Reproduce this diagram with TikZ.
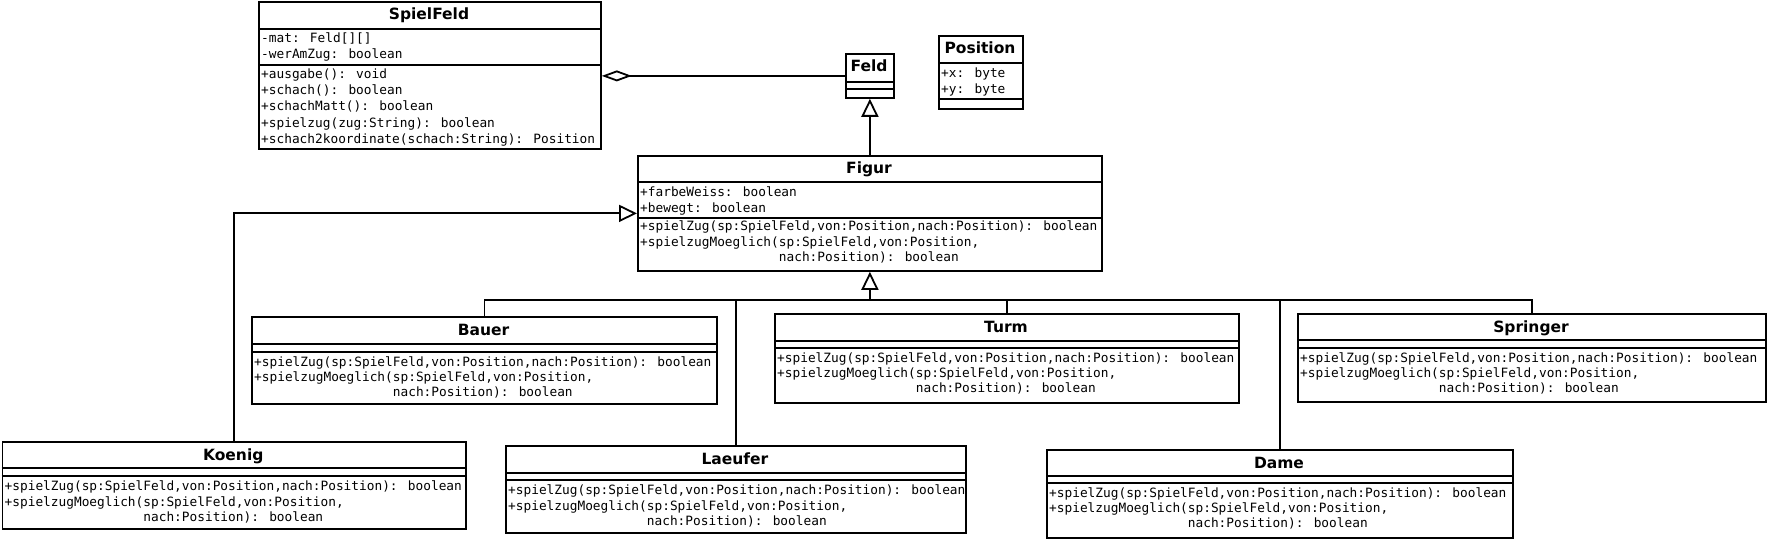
\documentclass[tikz,border=0pt]{standalone}
\usepackage{fontspec}
\usetikzlibrary{arrows.meta}
\newfontfamily\monof{DejaVu Sans Mono}
\newfontfamily\titlef{DejaVu Sans}
\newcommand\firstln{\rule{0pt}{10pt}}
\newcommand\figops{\firstln+spielZug(sp:SpielFeld,von:Position,nach:Position): boolean\\+spielzugMoeglich(sp:SpielFeld,von:Position,\\\phantom{+spielzugMoeglich(}nach:Position): boolean}
\tikzset{
  classbox/.style={draw, line width=1.8pt, rectangle, inner sep=0pt, fill=white},
  rule/.style={line width=1.8pt},
  titletext/.style={font=\titlef\bfseries\fontsize{15.5}{18}\selectfont, inner sep=0pt, anchor=base},
  mono/.style={font=\monof\fontsize{12.8}{15.3}\selectfont, align=left, inner sep=0pt, anchor=north west},
  monowide/.style={mono, font=\monof\fontsize{12.8}{15.6}\selectfont},
  monosf/.style={mono, font=\monof\fontsize{12.8}{16.2}\selectfont},
  conn/.style={line width=1.8pt},
  gen/.style={conn, -{Triangle[length=18pt, width=17pt, fill=white]}},
  agg/.style={conn, -{Diamond[length=30pt, width=11pt, fill=white]}},
}
% name, left, right, top, title divider, attribute divider, bottom, title
\newcommand\umlbox[8]{%
  \node[classbox, minimum width={#3-#2}, minimum height={#7-#4}, anchor=north west] (#1) at (#2,#4) {};
  \draw[rule] (#2,#5) -- (#3,#5);
  \draw[rule] (#2,#6) -- (#3,#6);
  \node[titletext] (#1-title) at ({(#2+#3)/2},{#4+19}) {#8};
}
\begin{document}
\begin{tikzpicture}[x=1pt,y=-1pt]
\useasboundingbox (0,0) rectangle (1767,540);

\umlbox{spielfeld}{258}{600}{1}{29}{65}{148}{SpielFeld}
\node[monowide] (spielfeld-attr) at (261,32.7) {\firstln-mat: Feld[][]\\-werAmZug: boolean};
\node[monosf] (spielfeld-ops) at (261,68.3) {\firstln+ausgabe(): void\\+schach(): boolean\\+schachMatt(): boolean\\+spielzug(zug:String): boolean\\+schach2koordinate(schach:String): Position};

\umlbox{feld}{845}{893}{53}{82}{89}{97}{Feld}

\umlbox{position}{938}{1022}{35}{63}{99}{108}{Position}
\node[monowide] (position-attr) at (941,67.7) {\firstln+x: byte\\+y: byte};

\umlbox{figur}{637}{1101}{155}{182}{218}{270}{Figur}
\node[monowide] (figur-attr) at (640,186.7) {\firstln+farbeWeiss: boolean\\+bewegt: boolean};
\node[monowide] (figur-ops) at (640,220.5) {\figops};

\umlbox{bauer}{251}{716}{316}{344}{352}{403}{Bauer}
\node[mono] (bauer-ops) at (254,356) {\figops};

\umlbox{turm}{774}{1238}{313}{341}{348}{402}{Turm}
\node[mono] (turm-ops) at (777,352) {\figops};

\umlbox{springer}{1297}{1765}{313}{340}{348}{401}{Springer}
\node[mono] (springer-ops) at (1300,352) {\figops};

\umlbox{koenig}{1.5}{465}{441}{468}{476}{528}{Koenig}
\node[mono] (koenig-ops) at (4.5,480.5) {\figops};

\umlbox{laeufer}{505}{965}{445}{473}{480}{532}{Laeufer}
\node[mono] (laeufer-ops) at (508,484.5) {\figops};

\umlbox{dame}{1046}{1512}{449}{476}{483}{537}{Dame}
\node[mono] (dame-ops) at (1049,487) {\figops};

% connectors
\draw[agg] (feld.west) -- (feld.west -| spielfeld.east);
\draw[gen] (figur.north) -- (feld.south);
\draw[gen] (koenig.north) |- (figur.west);
\coordinate (busy) at (0,300);
\coordinate (hub) at (figur.south |- busy);
\draw[conn] (bauer.north) |- (hub);
\draw[conn] (laeufer.north) |- (hub);
\draw[conn] (turm.north) |- (hub);
\draw[conn] (dame.north) |- (hub);
\draw[conn] (springer.north) |- (hub);
\draw[gen] (hub) -- (figur.south);
\end{tikzpicture}
\end{document}
